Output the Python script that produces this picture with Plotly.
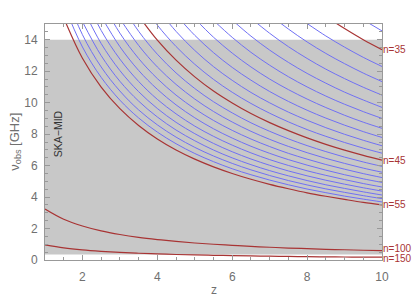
import plotly.graph_objects as go

# redshift grid (z)
Z = [1.0, 1.5, 2.0, 2.5, 3.0, 3.5, 4.0, 4.5, 5.0, 5.5, 6.0, 6.5, 7.0, 7.5,
     8.0, 8.5, 9.0, 9.5, 10.0]

# observed frequency [GHz] of each line, values for the last len(values) z of Z
blue_lines = {
    34: [15.26, 14.56],
    36: [15.03, 14.24, 13.53, 12.88, 12.30],
    37: [15.59, 14.68, 13.86, 13.13, 12.48, 11.88, 11.34],
    38: [15.37, 14.41, 13.56, 12.81, 12.13, 11.53, 10.98, 10.48],
    39: [15.25, 14.23, 13.34, 12.56, 11.86, 11.24, 10.67, 10.17, 9.70],
    40: [15.23, 14.15, 13.20, 12.38, 11.65, 11.00, 10.42, 9.90, 9.43, 9.00],
    41: [15.34, 14.16, 13.15, 12.27, 11.50, 10.83, 10.23, 9.69, 9.20, 8.76, 8.37],
    42: [15.58, 14.28, 13.18, 12.24, 11.43, 10.71, 10.08, 9.52, 9.02, 8.57, 8.16, 7.79],
    43: [15.98, 14.53, 13.32, 12.29, 11.42, 10.65, 9.99, 9.40, 8.88, 8.41, 7.99, 7.61, 7.26],
    44: [16.59, 14.93, 13.57, 12.44, 11.48, 10.66, 9.95, 9.33, 8.78, 8.29, 7.86, 7.47, 7.11, 6.79],
    46: [16.36, 14.54, 13.08, 11.89, 10.90, 10.06, 9.35, 8.72, 8.18, 7.70, 7.27, 6.89, 6.54, 6.23, 5.95],
    47: [15.34, 13.64, 12.27, 11.16, 10.23, 9.44, 8.77, 8.18, 7.67, 7.22, 6.82, 6.46, 6.14, 5.84, 5.58],
    48: [16.47, 14.42, 12.81, 11.53, 10.48, 9.61, 8.87, 8.24, 7.69, 7.21, 6.78, 6.41, 6.07, 5.77, 5.49, 5.24],
    49: [15.49, 13.56, 12.05, 10.85, 9.86, 9.04, 8.34, 7.75, 7.23, 6.78, 6.38, 6.03, 5.71, 5.42, 5.16, 4.93],
    50: [17.02, 14.59, 12.77, 11.35, 10.21, 9.29, 8.51, 7.86, 7.30, 6.81, 6.38, 6.01, 5.67, 5.38, 5.11, 4.86, 4.64],
    51: [16.05, 13.76, 12.04, 10.70, 9.63, 8.75, 8.03, 7.41, 6.88, 6.42, 6.02, 5.66, 5.35, 5.07, 4.82, 4.59, 4.38],
    52: [15.15, 12.99, 11.36, 10.10, 9.09, 8.26, 7.58, 6.99, 6.49, 6.06, 5.68, 5.35, 5.05, 4.78, 4.55, 4.33, 4.13],
    53: [17.18, 14.32, 12.27, 10.74, 9.54, 8.59, 7.81, 7.16, 6.61, 6.14, 5.73, 5.37, 5.05, 4.77, 4.52, 4.30, 4.09, 3.90],
    54: [16.25, 13.54, 11.61, 10.16, 9.03, 8.13, 7.39, 6.77, 6.25, 5.80, 5.42, 5.08, 4.78, 4.51, 4.28, 4.06, 3.87, 3.69],
}
red_lines = {
    35: [15.48, 14.71, 14.00, 13.37],
    45: [15.52, 13.97, 12.70, 11.64, 10.74, 9.98, 9.31, 8.73, 8.22, 7.76, 7.35, 6.98, 6.65, 6.35],
    55: [15.39, 12.82, 10.99, 9.62, 8.55, 7.69, 6.99, 6.41, 5.92, 5.50, 5.13, 4.81, 4.53, 4.27, 4.05, 3.85, 3.66, 3.50],
    100: [3.24, 2.59, 2.16, 1.85, 1.62, 1.44, 1.30, 1.18, 1.08, 1.00, 0.93, 0.86, 0.81, 0.76, 0.72, 0.68, 0.65, 0.62, 0.59],
    150: [0.96, 0.77, 0.64, 0.55, 0.48, 0.43, 0.39, 0.35, 0.32, 0.30, 0.28, 0.26, 0.24, 0.23, 0.21, 0.20, 0.19, 0.18, 0.18],
}
ska_band = [0.35, 14.0]  # GHz
label_text = "SKA−MID"
x_title = "z"
y_title = "ν<sub>obs</sub> [GHz]"

BLUE = "#7070f4"
RED = "#a83434"
GREY_TXT = "#707070"
FONT = "Liberation Sans"

fig = go.Figure()

fig.add_shape(type="rect", xref="x", yref="y", x0=Z[0], x1=Z[-1],
              y0=ska_band[0], y1=ska_band[1], fillcolor="#c8c8c8",
              line=dict(width=0), layer="below")

for n, vals in blue_lines.items():
    fig.add_trace(go.Scatter(x=Z[-len(vals):], y=vals, mode="lines",
                             line=dict(color=BLUE, width=1, shape="spline"),
                             hoverinfo="skip", showlegend=False))
for n, vals in red_lines.items():
    fig.add_trace(go.Scatter(x=Z[-len(vals):], y=vals, mode="lines",
                             line=dict(color=RED, width=1.2, shape="spline"),
                             hoverinfo="skip", showlegend=False))
    fig.add_annotation(x=Z[-1], y=vals[-1], xref="x", yref="y",
                       text=f"n={n}", showarrow=False, xanchor="left",
                       yanchor="middle", xshift=-1,
                       yshift=2 if n == 100 else (-1 if n == 150 else 0),
                       font=dict(color=RED, size=10, family=FONT))

fig.add_annotation(x=1.35, y=8.0, xref="x", yref="y", text=label_text,
                   textangle=-90, showarrow=False,
                   font=dict(color="#333333", size=10.5, family=FONT))

# axis titles
fig.add_annotation(x=0.5, y=-0.126, xref="paper", yref="paper", text=x_title,
                   showarrow=False, yanchor="middle",
                   font=dict(color=GREY_TXT, size=12, family=FONT))
fig.add_annotation(x=-0.09, y=0.5, xref="paper", yref="paper", text=y_title,
                   showarrow=False, textangle=-90, xanchor="center",
                   font=dict(color=GREY_TXT, size=13, family=FONT))

axis_common = dict(showgrid=False, zeroline=False, showline=True,
                   linecolor="#999999", linewidth=1, mirror="ticks",
                   ticks="inside", tickcolor="#999999", ticklen=5, tickwidth=1,
                   automargin=False,
                   tickfont=dict(color=GREY_TXT, size=12, family=FONT))

fig.update_xaxes(range=[1, 10], tickvals=[2, 4, 6, 8, 10],
                 minor=dict(dtick=0.5, tick0=1, ticks="inside", ticklen=3,
                            tickcolor="#999999"),
                 ticklabelstandoff=6,
                 **axis_common)
fig.update_yaxes(range=[0, 15], tickvals=[0, 2, 4, 6, 8, 10, 12, 14],
                 minor=dict(dtick=0.5, tick0=0, ticks="inside", ticklen=3,
                            tickcolor="#999999"),
                 ticklabelstandoff=4,
                 **axis_common)

fig.update_layout(width=415, height=297,
                  margin=dict(l=45, r=33, t=24, b=37),
                  plot_bgcolor="white", paper_bgcolor="white")

# remove the default page margin so the 415x297 figure fills the window
fig.write_html("out.html", config={"displayModeBar": False},
               post_script="document.body.style.margin='0';"
                           "document.body.style.overflow='hidden';")
